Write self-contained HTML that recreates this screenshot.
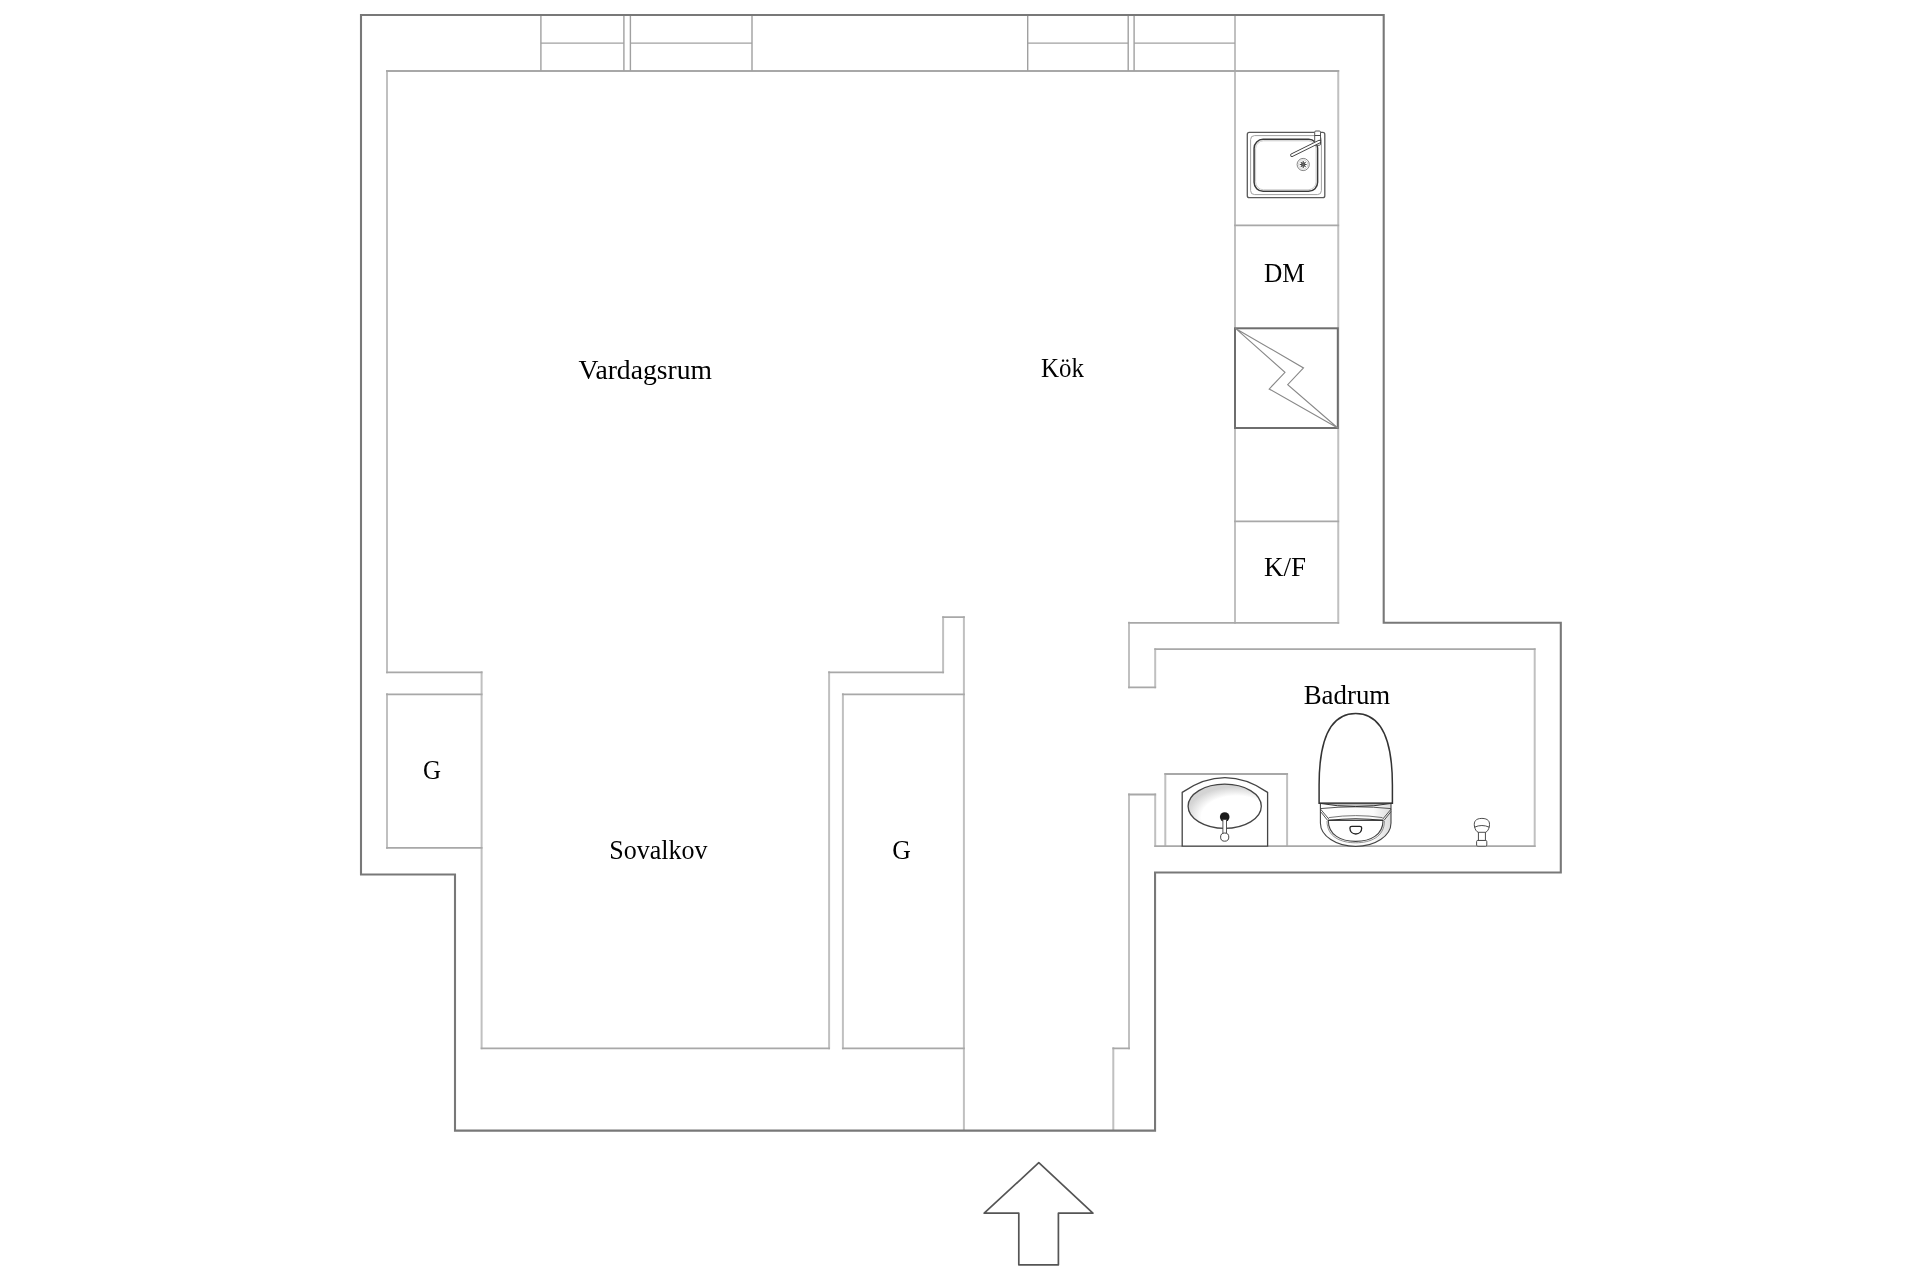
<!DOCTYPE html>
<html>
<head>
<meta charset="utf-8">
<style>
html,body{margin:0;padding:0;background:#fff;width:1920px;height:1280px;overflow:hidden;}
svg{display:block;}
text{font-family:"Liberation Serif",serif;fill:#000;}
.lbl{will-change:transform;}
</style>
</head>
<body>
<svg width="1920" height="1280" viewBox="0 0 1920 1280">
<rect x="0" y="0" width="1920" height="1280" fill="#fff"/>

<!-- inner gray lines -->
<path d="M387,71V672.3 M481.6,672.3V1048.3 M829.1,672.3V1048.3 M943.1,617.2V672.3 M963.9,617.2V1130 M1338.25,71V622.8 M1235,15V622.8 M387,694.3V847.8 M842.9,694.3V1048.3 M1129,622.8V687.3 M1155.2,649.2V687.3 M1534.7,649.2V846.1 M1155.2,794.5V846.1 M1129,794.5V1048.3 M1113.3,1048.3V1130 M1165.3,774V846.1 M1287.1,774V846.1" fill="none" stroke="#c0c0c0" stroke-width="2" stroke-linecap="square"/>
<path d="M387,71H1338.25 M387,672.3H481.6 M481.6,1048.3H829.1 M829.1,672.3H943.1 M943.1,617.2H963.9 M1235,225.3H1338.25 M1235,521.4H1338.25 M387,694.3H481.6 M387,847.8H481.6 M842.9,694.3H963.9 M842.9,1048.3H963.9 M1129,622.8H1338.25 M1129,687.3H1155.2 M1155.2,649.2H1534.7 M1155.2,846.1H1534.7 M1129,794.5H1155.2 M1113.3,1048.3H1129 M1165.3,774H1287.1" fill="none" stroke="#a8a8a8" stroke-width="1.8" stroke-linecap="square"/>
<!-- windows -->
<g fill="none" stroke="#a0a0a0" stroke-width="1.4">
  <line x1="540.9" y1="15" x2="540.9" y2="71"/>
  <line x1="623.9" y1="15" x2="623.9" y2="71"/>
  <line x1="630.4" y1="15" x2="630.4" y2="71"/>
  <line x1="752" y1="15" x2="752" y2="71"/>
  <line x1="540.9" y1="43.1" x2="623.9" y2="43.1"/>
  <line x1="630.4" y1="43.1" x2="752" y2="43.1"/>
  <line x1="1027.7" y1="15" x2="1027.7" y2="71"/>
  <line x1="1128.2" y1="15" x2="1128.2" y2="71"/>
  <line x1="1134.1" y1="15" x2="1134.1" y2="71"/>
  <line x1="1027.7" y1="43.1" x2="1128.2" y2="43.1"/>
  <line x1="1134.1" y1="43.1" x2="1235" y2="43.1"/>
</g>

<!-- outer dark walls -->
<g fill="none" stroke="#787878" stroke-width="2.1" stroke-linejoin="miter">
  <polygon points="361,15 1383.7,15 1383.7,622.8 1560.8,622.8 1560.8,872.5 1155.05,872.5 1155.05,1130.6 455,1130.6 455,874.5 361,874.5"/>
</g>

<!-- stove -->
<rect x="1235" y="328.3" width="102.8" height="99.7" fill="none" stroke="#6e6e6e" stroke-width="2"/>
<polygon points="1235.5,328.4 1303.5,367.9 1287.7,384.6 1337.8,428 1269.2,389 1285,372.3" fill="none" stroke="#888" stroke-width="1.1" stroke-linejoin="miter"/>

<!-- kitchen sink -->
<g fill="none" stroke="#555">
  <rect x="1247.3" y="132.4" width="77.5" height="65.3" rx="2" stroke="#5a5a5a" stroke-width="1.3"/>
  <rect x="1250.6" y="135.6" width="70.8" height="59" rx="4" stroke="#a0a0a0" stroke-width="1"/>
  <rect x="1254.1" y="139.3" width="63.5" height="52" rx="9" stroke="#3a3a3a" stroke-width="1.5"/>
  <rect x="1255.6" y="140.8" width="60.5" height="49" rx="8" stroke="#c4c4c4" stroke-width="0.9"/>
  <circle cx="1303.2" cy="164.5" r="6.1" stroke="#777" stroke-width="0.9"/>
  <circle cx="1303.2" cy="164.5" r="4.6" stroke="#bbb" stroke-width="0.7"/>
  <circle cx="1303.2" cy="164.5" r="2" fill="#666" stroke="none"/>
  <path d="M1304.40,164.50 L1306.60,164.50 M1304.05,165.35 L1305.60,166.90 M1303.20,165.70 L1303.20,167.90 M1302.35,165.35 L1300.80,166.90 M1302.00,164.50 L1299.80,164.50 M1302.35,163.65 L1300.80,162.10 M1303.20,163.30 L1303.20,161.10 M1304.05,163.65 L1305.60,162.10 " stroke="#444" stroke-width="1.1"/>
  <rect x="1314.7" y="131" width="5.8" height="14.3" rx="1.2" stroke="#555" stroke-width="1" fill="#fff"/>
  <line x1="1314.7" y1="135.5" x2="1320.5" y2="135.5" stroke="#333" stroke-width="0.9"/>
  <path d="M1292,155.1 L1319.3,141.7" stroke="#3a3a3a" stroke-width="3.6" stroke-linecap="round"/>
  <path d="M1292,155.1 L1319.3,141.7" stroke="#fff" stroke-width="1.9" stroke-linecap="round"/>
</g>

<!-- bathroom sink -->
<defs>
  <radialGradient id="basin" cx="0.64" cy="0.72" r="0.66" fx="0.7" fy="0.8">
    <stop offset="0" stop-color="#fff"/>
    <stop offset="0.72" stop-color="#fff"/>
    <stop offset="1" stop-color="#d4d4d4"/>
  </radialGradient>
  <linearGradient id="seat" x1="0" y1="0" x2="1" y2="0">
    <stop offset="0" stop-color="#fff"/>
    <stop offset="0.75" stop-color="#fafafa"/>
    <stop offset="1" stop-color="#dcdcdc"/>
  </linearGradient>
</defs>
<g stroke="#444" fill="#fff">
  <path d="M1182.2,846.2 L1182.2,792.4 Q1225,763 1267.6,792.4 L1267.6,846.2 Z" stroke-width="1.3"/>
  <ellipse cx="1224.7" cy="806.2" rx="36.6" ry="22.1" stroke-width="1.3" fill="url(#basin)"/>
  <circle cx="1224.7" cy="817" r="4.8" fill="#1a1a1a" stroke="none"/>
  <rect x="1222.9" y="819.5" width="3.6" height="14.5" fill="#fff" stroke-width="0.9"/>
  <circle cx="1224.7" cy="837.1" r="4.1" stroke-width="1"/>
</g>

<!-- toilet -->
<g stroke="#444" fill="none" stroke-width="1.1">
  <path d="M1320.4,803.5 L1320.4,823 A35.3,23.4 0 0 0 1391,823 L1391,803.5" fill="url(#seat)"/>
  <path d="M1328.3,820.4 C1328.3,835 1341,841.4 1355.7,841.4 C1370.4,841.4 1383,835 1383,820.4 Z" fill="#fff"/>
  <path d="M1327,821 C1327,837 1341,842.8 1355.7,842.8 C1370.4,842.8 1384.4,837 1384.4,821" stroke="#777" stroke-width="0.8"/>
  <path d="M1320.6,809.2 L1328.8,819 M1320.6,811.6 L1327.6,820.4 M1391,809.2 L1382.8,819 M1391,811.6 L1384,820.4" stroke-width="0.9"/>
  <path d="M1320.4,808.6 Q1355.7,805 1391,808.6" stroke-width="0.9"/>
  <path d="M1328.8,817.6 Q1355.7,813.6 1382.5,817.6" stroke="#666" stroke-width="0.9"/>
  <path d="M1328.3,820.4 Q1355.7,817 1383,820.4" stroke="#333" stroke-width="1.1"/>
  <path d="M1319.1,803.3 L1319.1,785 C1319.1,734 1332.5,713.4 1355.7,713.4 C1378.9,713.4 1392.4,734 1392.4,785 L1392.4,803.3 Z" fill="#fff" stroke="#333" stroke-width="1.5"/>
  <path d="M1319.5,803.3 Q1355.7,809.8 1392,803.3 Z" fill="#bbb" stroke="#333" stroke-width="1"/>
  <path d="M1349.9,828 Q1349.9,826.4 1351.8,826.4 L1359.8,826.4 Q1361.7,826.4 1361.7,828 C1361.7,831.7 1359.2,834 1355.8,834 C1352.4,834 1349.9,831.7 1349.9,828 Z" stroke="#222" stroke-width="1.3"/>
</g>

<!-- valve -->
<g stroke="#444" fill="#fff" stroke-width="0.95">
  <rect x="1476.6" y="840.4" width="10.2" height="5.8" rx="1.2"/>
  <rect x="1478.4" y="830.5" width="7" height="9.9"/>
  <path d="M1478.3,832.3 C1476.2,831.6 1475,829.2 1474.4,826 C1473.8,821.5 1475.5,818.5 1481.9,818.4 C1488.3,818.5 1490,821.5 1489.4,826 C1488.8,829.2 1487.6,831.6 1485.5,832.3 Z"/>
  <path d="M1474.5,827.2 Q1481.9,823.8 1489.3,827.2" fill="none"/>
</g>

<!-- entrance arrow -->
<polygon points="1038.8,1162.7 1092.9,1213.2 1058.4,1213.2 1058.4,1264.8 1018.8,1264.8 1018.8,1213.2 984.2,1213.2" fill="none" stroke="#555" stroke-width="1.7" stroke-linejoin="round"/>

<!-- labels -->
<g font-size="27" class="lbl" style="opacity:0.999">
  <text x="578.5" y="379" textLength="133.5" lengthAdjust="spacingAndGlyphs">Vardagsrum</text>
  <text x="1041.1" y="376.9" textLength="42.9" lengthAdjust="spacingAndGlyphs">Kök</text>
  <text x="1264" y="281.7" textLength="40.9" lengthAdjust="spacingAndGlyphs">DM</text>
  <text x="1264" y="576.4" textLength="42" lengthAdjust="spacingAndGlyphs">K/F</text>
  <text x="1303.7" y="703.9" textLength="86.6" lengthAdjust="spacingAndGlyphs">Badrum</text>
  <text x="609.2" y="859.4" textLength="98.2" lengthAdjust="spacingAndGlyphs">Sovalkov</text>
  <text x="423" y="779.2" textLength="18" lengthAdjust="spacingAndGlyphs">G</text>
  <text x="892.2" y="859.4" textLength="18.6" lengthAdjust="spacingAndGlyphs">G</text>
</g>
</svg>
</body>
</html>
